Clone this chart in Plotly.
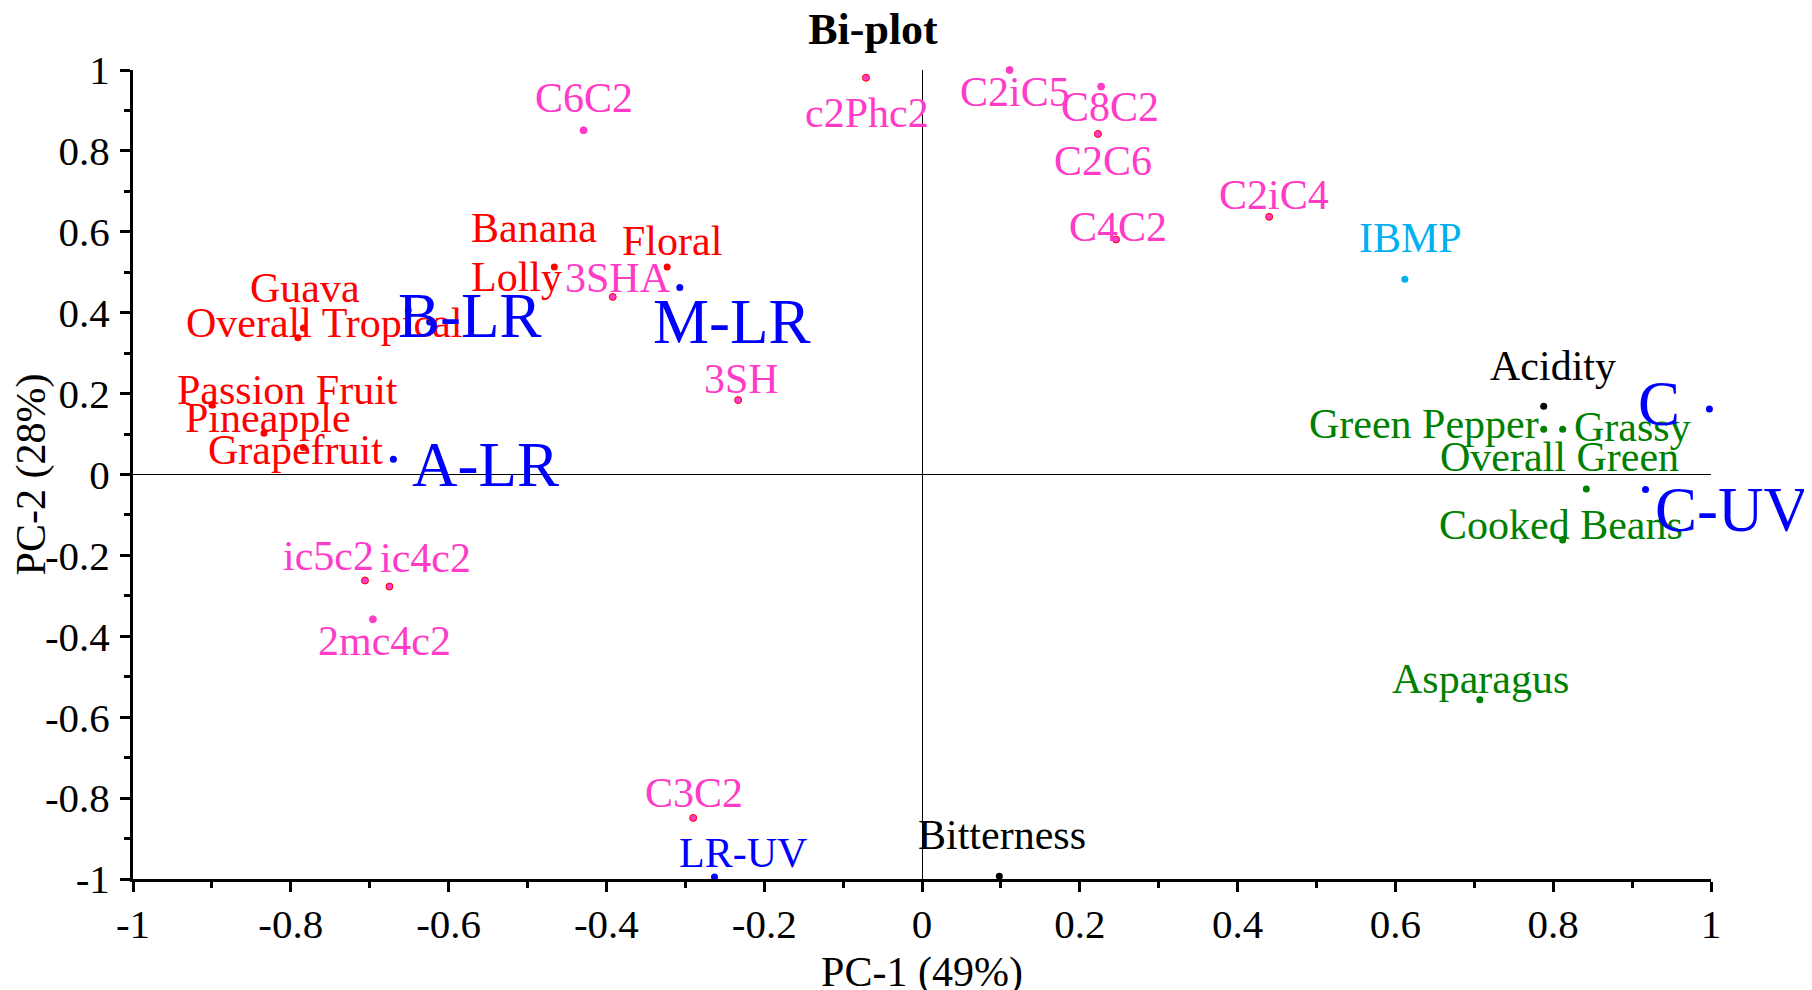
import plotly.graph_objects as go

# ---------------- data (PC-1, PC-2 loadings / scores) ----------------
descriptor_names = ["Guava", "Overall Tropical", "Passion Fruit", "Pineapple",
                    "Grapefruit", "Banana", "Lolly", "Floral"]
descriptor_pc1 = [-0.784, -0.791, -0.900, -0.834, -0.784, -0.466, -0.651, -0.323]
descriptor_pc2 = [0.362, 0.338, 0.172, 0.102, 0.067, 0.513, 0.406, 0.513]

compound_names = ["C6C2", "c2Phc2", "C2iC5", "C8C2", "C2C6", "C4C2", "C2iC4",
                  "3SHA", "3SH", "ic5c2", "ic4c2", "2mc4c2", "C3C2"]
compound_pc1 = [-0.429, -0.071, 0.111, 0.227, 0.223, 0.246, 0.440,
                -0.392, -0.233, -0.706, -0.675, -0.696, -0.290]
compound_pc2 = [0.851, 0.981, 1.000, 0.959, 0.842, 0.581, 0.637,
                0.439, 0.184, -0.262, -0.277, -0.358, -0.849]

pyrazine_names = ["IBMP"]
pyrazine_pc1 = [0.612]
pyrazine_pc2 = [0.483]

mouthfeel_names = ["Acidity", "Bitterness"]
mouthfeel_pc1 = [0.788, 0.098]
mouthfeel_pc2 = [0.169, -0.993]

green_names = ["Green Pepper", "Grassy", "Overall Green", "Cooked Beans", "Asparagus"]
green_pc1 = [0.788, 0.812, 0.842, 0.812, 0.707]
green_pc2 = [0.112, 0.112, -0.036, -0.162, -0.557]

sample_names = ["A-LR", "B-LR", "M-LR", "LR-UV", "C", "C-UV"]
sample_pc1 = [-0.670, -0.624, -0.307, -0.263, 0.998, 0.917]
sample_pc2 = [0.038, 0.377, 0.462, -0.995, 0.162, -0.037]

x_ticks = [-1, -0.8, -0.6, -0.4, -0.2, 0, 0.2, 0.4, 0.6, 0.8, 1]
y_ticks = [-1, -0.8, -0.6, -0.4, -0.2, 0, 0.2, 0.4, 0.6, 0.8, 1]

# ---------------- styles ----------------
FONT = "Liberation Serif, Times New Roman, serif"
RED = "#FF0000"
PINK = "#FF3CC8"
CYAN = "#00B0F0"
GREEN = "#008000"
BLUE = "#0000FF"
BLACK = "#000000"

LABEL_SIZE = 42
BIG_SIZE = 63
big_labels = {"A-LR", "B-LR", "M-LR", "C", "C-UV"}
plain_pink_dots = {"C6C2", "C2iC5", "C8C2", "2mc4c2"}

# label offsets from the point (pixels, right / up)
label_offset = {
    "Guava": (2, 40), "Overall Tropical": (26, 15), "Passion Fruit": (76, 15),
    "Pineapple": (4, 15), "Grapefruit": (-8, -3), "Banana": (-20, 39),
    "Lolly": (108, 33), "Floral": (5, 26),
    "C6C2": (0, 32), "c2Phc2": (1, -35), "C2iC5": (5, -22), "C8C2": (9, -20),
    "C2C6": (5, -27), "C4C2": (2, 12), "C2iC4": (5, 22), "3SHA": (5, 19),
    "3SH": (3, 21), "ic5c2": (-36, 24), "ic4c2": (36, 29), "2mc4c2": (12, -22),
    "C3C2": (1, 25), "IBMP": (6, 41), "Acidity": (9, 40), "Bitterness": (3, 41),
    "Green Pepper": (-120, 5), "Grassy": (70, 2), "Overall Green": (-27, 32),
    "Cooked Beans": (-2, 15), "Asparagus": (1, 21),
    "A-LR": (92, -6), "B-LR": (40, 6), "M-LR": (52, -34), "LR-UV": (29, 24),
    "C": (-50, 5), "C-UV": (86, -21),
}

groups = [
    (descriptor_names, descriptor_pc1, descriptor_pc2, RED),
    (compound_names, compound_pc1, compound_pc2, PINK),
    (pyrazine_names, pyrazine_pc1, pyrazine_pc2, CYAN),
    (mouthfeel_names, mouthfeel_pc1, mouthfeel_pc2, BLACK),
    (green_names, green_pc1, green_pc2, GREEN),
    (sample_names, sample_pc1, sample_pc2, BLUE),
]

fig = go.Figure()
annotations = []
for names, xs, ys, color in groups:
    if color == PINK:
        line_colors = [PINK if n in plain_pink_dots else RED for n in names]
        line_width = 1
    else:
        line_colors = color
        line_width = 0
    fig.add_trace(go.Scatter(
        x=xs, y=ys, mode="markers", showlegend=False, hoverinfo="text",
        text=names, cliponaxis=False,
        marker=dict(size=7, color=color, line=dict(color=line_colors, width=line_width)),
    ))
    for n, x, y in zip(names, xs, ys):
        dx, dy = label_offset[n]
        annotations.append(dict(
            x=x, y=y, xref="x", yref="y", text=n, showarrow=False,
            xanchor="center", yanchor="middle", xshift=dx, yshift=dy,
            font=dict(family=FONT, size=BIG_SIZE if n in big_labels else LABEL_SIZE,
                      color=color),
        ))

axis_common = dict(
    range=[-1, 1], showgrid=False, zeroline=True, zerolinecolor=BLACK,
    zerolinewidth=1, showline=True, linecolor=BLACK, linewidth=3,
    ticks="outside", ticklen=10, tickwidth=3, tickcolor=BLACK,
    tickfont=dict(family=FONT, size=41, color=BLACK),
    minor=dict(ticks="outside", dtick=0.1, ticklen=6, tickwidth=3, tickcolor=BLACK),
    fixedrange=True,
)

fig.update_layout(
    width=1812, height=990,
    margin=dict(l=124.5, r=108.5, t=61.5, b=118.5, autoexpand=False),
    paper_bgcolor="white", plot_bgcolor="white",
    font=dict(family=FONT, color=BLACK),
    title=dict(text="<b>Bi-plot</b>", x=865 / 1812, xref="container", xanchor="center",
               y=1 - 20.5 / 990, yref="container", yanchor="middle",
               font=dict(family=FONT, size=44, color=BLACK)),
    xaxis=dict(axis_common, tickvals=x_ticks, ticktext=[f"{v:g}" for v in x_ticks],
               ticklabelstandoff=-3,
               title=dict(text="PC-1 (49%)", standoff=11,
                          font=dict(family=FONT, size=42, color=BLACK))),
    yaxis=dict(axis_common, tickvals=y_ticks, ticktext=[f"{v:g}" for v in y_ticks],
               ticklabelstandoff=2,
               title=dict(text="PC-2 (28%)", standoff=10,
                          font=dict(family=FONT, size=42, color=BLACK))),
    annotations=annotations,
    hovermode="closest",
)

fig.write_html("out.html")
